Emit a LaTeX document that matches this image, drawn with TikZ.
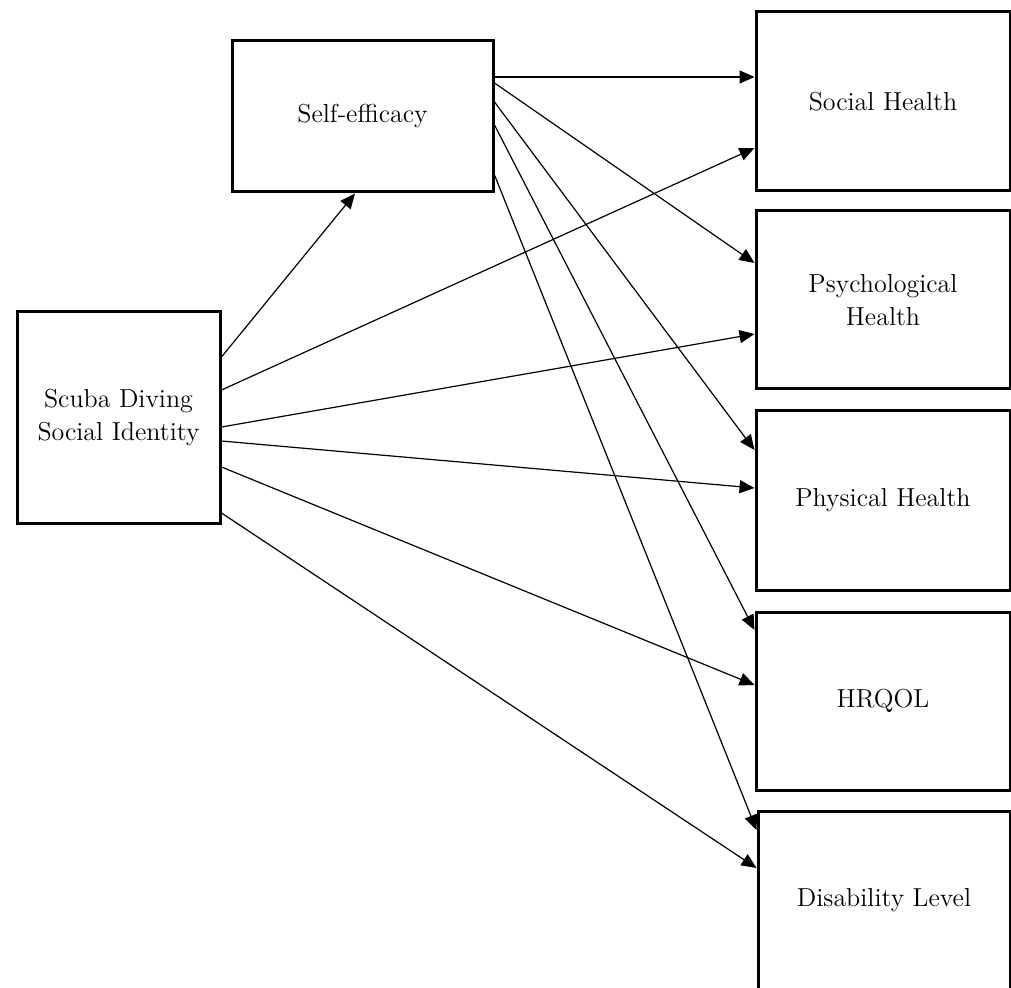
\documentclass[tikz,border=0pt]{standalone}
\usetikzlibrary{arrows.meta}
\begin{document}
\begin{tikzpicture}[x=0.5pt,y=-0.5pt,
  box/.style={draw, line width=1.5pt, rectangle, align=center, inner sep=0pt,
    font=\fontsize{13}{16.3}\selectfont},
  arr/.style={-{Triangle[length=7.5pt,width=6.5pt]}, line width=0.6pt}]
\useasboundingbox (0,0) rectangle (1011,988);
\node[box, minimum width=130.5pt, minimum height=75.5pt] (se) at (362.5,116.5) {Self-efficacy};
\node[box, minimum width=101.5pt, minimum height=105.5pt] (sd) at (118.5,417.5) {Scuba Diving\\Social Identity};
\node[box, minimum width=127pt, minimum height=89.5pt] (sh) at (883,101.5) {Social Health};
\node[box, minimum width=127pt, minimum height=89pt] (ps) at (883,300) {Psychological\\Health};
\node[box, minimum width=127pt, minimum height=89.5pt] (phy) at (883,500.5) {Physical Health};
\node[box, minimum width=127pt, minimum height=89pt] (hq) at (883,701) {HRQOL};
\node[box, minimum width=126pt, minimum height=89.5pt] (dl) at (884,900.5) {Disability Level};
% from Self-efficacy
\draw[arr] (se.east |- 0,77) -- (sh.west |- 0,77);
\draw[arr] (se.east |- 0,83) -- (ps.west |- 0,263);
\draw[arr] (se.east |- 0,102) -- (phy.west |- 0,450);
\draw[arr] (se.east |- 0,125) -- (hq.west |- 0,630);
\draw[arr] (se.east |- 0,175) -- (dl.west |- 0,830);
% from Scuba Diving Social Identity
\draw[arr] (sd.east |- 0,357) -- (355,0 |- se.south);
\draw[arr] (sd.east |- 0,390) -- (sh.west |- 0,148);
\draw[arr] (sd.east |- 0,427) -- (ps.west |- 0,334);
\draw[arr] (sd.east |- 0,441) -- (phy.west |- 0,488);
\draw[arr] (sd.east |- 0,467) -- (hq.west |- 0,685);
\draw[arr] (sd.east |- 0,513) -- (dl.west |- 0,868);
\end{tikzpicture}
\end{document}
